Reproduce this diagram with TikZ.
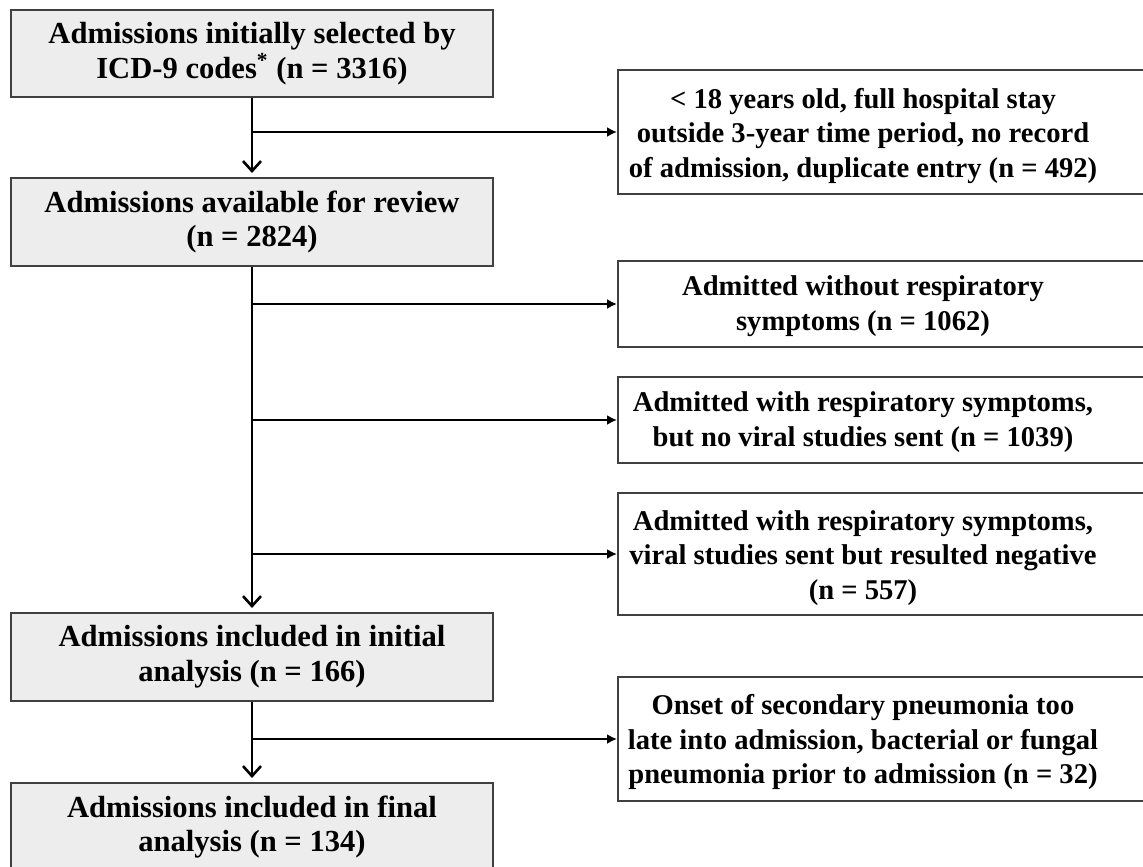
\documentclass[tikz,border=0pt]{standalone}
\usepackage{fontspec}
\setmainfont{Liberation Serif}
\usetikzlibrary{arrows.meta}
\begin{document}
\begin{tikzpicture}[x=0.5pt,y=-0.5pt,
  txt/.style={align=center, inner sep=0pt, font=\fontsize{15.3}{17.4}\selectfont\bfseries},
  rtxt/.style={align=center, inner sep=0pt, font=\fontsize{14.3}{17.4}\selectfont\bfseries},
  lbox/.style={txt, draw=black!75, line width=1pt, fill=black!7, minimum width=241pt},
  rframe/.style={draw=black!75, line width=1pt, inner sep=0pt, minimum width=266pt},
  conn/.style={line width=1.4pt, black},
  down/.style={conn, shorten >=2pt, -{Straight Barb[length=5pt,width=9pt,line width=1.3pt]}},
  side/.style={conn, -{Latex[length=5pt,width=5pt]}}
]
\useasboundingbox (0,0) rectangle (1143,866);
% left column
\node[lbox, minimum height=43.5pt] (b1) at (252,53.5) {Admissions initially selected by\\ICD-9 codes\textsuperscript{*} (n = 3316)};
\node[lbox, minimum height=44pt] (b2) at (252,222) {Admissions available for review\\(n = 2824)};
\node[lbox, minimum height=44pt] (b4) at (252,657) {Admissions included in initial\\analysis (n = 166)};
\node[lbox, minimum height=44pt] (b5) at (252,827) {Admissions included in final\\analysis (n = 134)};
% right column frames
\node[rframe, minimum height=62pt] (r1) at (884,132) {};
\node[rframe, minimum height=43pt] (r2) at (884,304) {};
\node[rframe, minimum height=43pt] (r3) at (884,420) {};
\node[rframe, minimum height=61pt] (r4) at (884,554) {};
\node[rframe, minimum height=62pt] (r5) at (884,739) {};
% right column texts
\node[rtxt] (t1) at (863,136) {< 18 years old, full hospital stay\\outside 3-year time period, no record\\of admission, duplicate entry (n = 492)};
\node[rtxt] (t2) at (863,306) {Admitted without respiratory\\symptoms (n = 1062)};
\node[rtxt] (t3) at (863,422) {Admitted with respiratory symptoms,\\but no viral studies sent (n = 1039)};
\node[rtxt] (t4) at (863,558) {Admitted with respiratory symptoms,\\viral studies sent but resulted negative\\(n = 557)};
\node[rtxt] (t5) at (863,742) {Onset of secondary pneumonia too\\late into admission, bacterial or fungal\\pneumonia prior to admission (n = 32)};
% junctions
\coordinate (j1) at (b1.south |- r1.west);
\coordinate (j2) at (b2.south |- r2.west);
\coordinate (j3) at (b2.south |- r3.west);
\coordinate (j4) at (b2.south |- r4.west);
\coordinate (j5) at (b4.south |- r5.west);
% connectors
\draw[down] (b1.south) -- (b2.north);
\draw[down] (b2.south) -- (b4.north);
\draw[down] (b4.south) -- (b5.north);
\draw[side] (j1) -- (r1.west);
\draw[side] (j2) -- (r2.west);
\draw[side] (j3) -- (r3.west);
\draw[side] (j4) -- (r4.west);
\draw[side] (j5) -- (r5.west);
\end{tikzpicture}
\end{document}
